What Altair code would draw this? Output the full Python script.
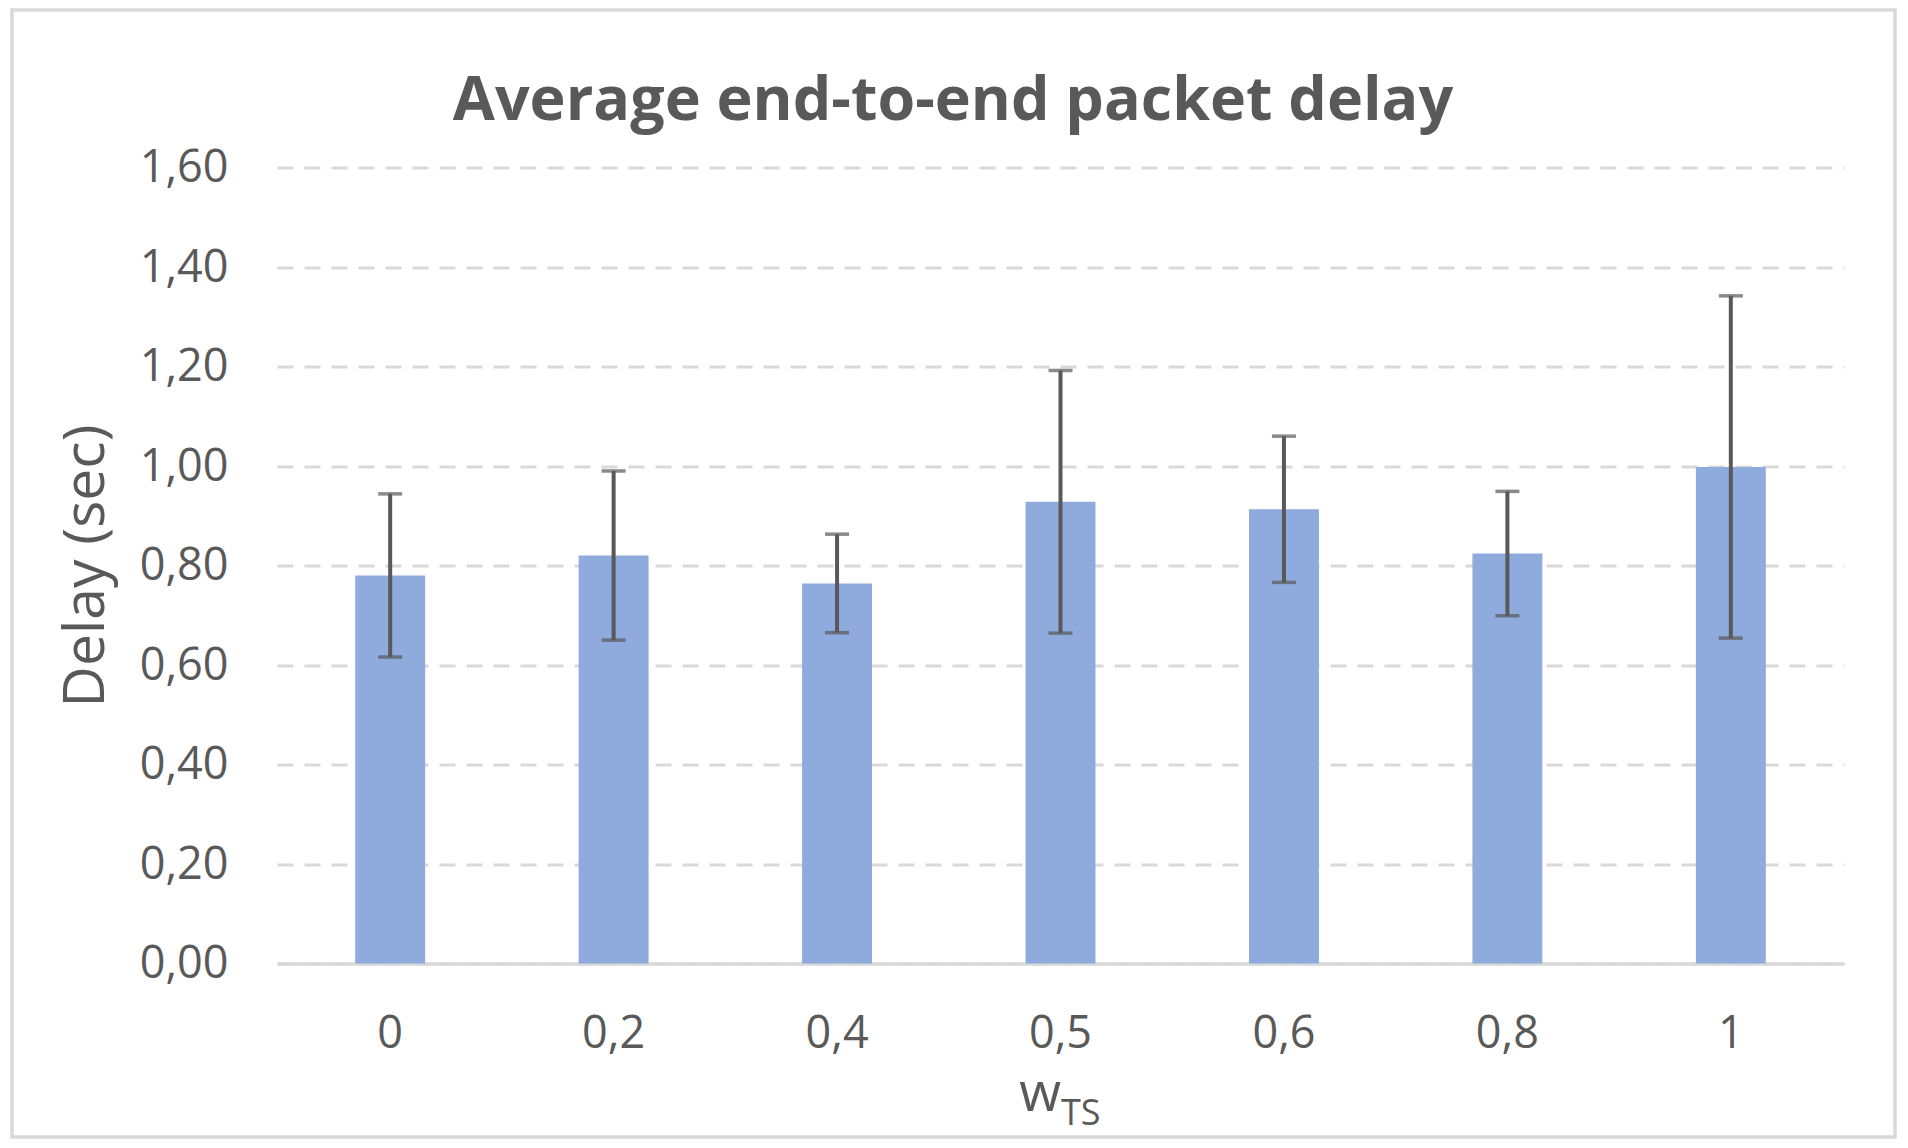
import altair as alt
import pandas as pd

# ---- data ----
w_ts = ["0", "0,2", "0,4", "0,5", "0,6", "0,8", "1"]
delay = [0.780, 0.820, 0.764, 0.928, 0.913, 0.824, 0.998]
err = [0.164, 0.170, 0.099, 0.264, 0.147, 0.125, 0.344]
y_ticks = [0.0, 0.2, 0.4, 0.6, 0.8, 1.0, 1.2, 1.4, 1.6]
title_text = "Average end-to-end packet delay"

df = pd.DataFrame({"w": w_ts, "delay": delay, "err": err})

TEXT = "#595959"
GRID = "#d9d9d9"
BAR = "#8FAADC"
FONT = "Open Sans"

W, H = 1567, 796

x_enc = alt.X(
    "w:N",
    sort=w_ts,
    scale=alt.Scale(paddingInner=0.687, paddingOuter=0.35),
    axis=alt.Axis(
        title=None,
        labelFont=FONT,
        labelFontSize=45,
        labelColor=TEXT,
        labelAngle=0,
        labelPadding=48,
        labelBaseline="top",
        ticks=False,
        tickSize=0,
        domainColor=GRID,
        domainWidth=3.5,
        grid=False,
    ),
)

y_scale = alt.Scale(domain=[0, 1.6], nice=False)

bars = alt.Chart(df).mark_bar(color=BAR).encode(
    x=x_enc,
    y=alt.Y(
        "delay:Q",
        scale=y_scale,
        axis=alt.Axis(
            title="Delay (sec)",
            titleFont=FONT,
            titleFontSize=57,
            titleFontWeight="normal",
            titleColor=TEXT,
            titlePadding=24,
            values=y_ticks,
            labelExpr="replace(format(datum.value, '.2f'), '.', ',')",
            labelFont=FONT,
            labelFontSize=45,
            labelColor=TEXT,
            labelPadding=49,
            ticks=False,
            tickSize=0,
            domain=False,
            grid=True,
            gridColor=GRID,
            gridWidth=3,
            gridDash=[16, 11],
        ),
    ),
)

base = alt.Chart(df).transform_calculate(
    lo="datum.delay - datum.err", hi="datum.delay + datum.err"
)

rules = base.mark_rule(color=TEXT, strokeWidth=4).encode(
    x=alt.X("w:N", sort=w_ts),
    y=alt.Y("lo:Q", scale=y_scale),
    y2="hi:Q",
)
cap_lo = base.mark_tick(color=TEXT, size=24, thickness=3.5, orient="horizontal").encode(
    x=alt.X("w:N", sort=w_ts),
    y=alt.Y("lo:Q", scale=y_scale),
)
cap_hi = base.mark_tick(color=TEXT, size=24, thickness=3.5, orient="horizontal").encode(
    x=alt.X("w:N", sort=w_ts),
    y=alt.Y("hi:Q", scale=y_scale),
)

one = alt.Chart(df).transform_filter("datum.w == '0'")

# outer frame around the chart
frame = one.mark_rect(
    fill=None, fillOpacity=0, stroke=GRID, strokeWidth=3.5
).encode(
    x=alt.value(-265), x2=alt.value(1618), y=alt.value(-157.5), y2=alt.value(969.5)
)

# chart title
title = one.mark_text(
    text=title_text, font=FONT, fontSize=61, fontWeight="bold", color=TEXT,
    align="center", baseline="alphabetic"
).encode(x=alt.value(676), y=alt.value(-47.5))

# x-axis title: w with subscript TS
xt_main = one.mark_text(
    text="w", font=FONT, fontSize=54, color=TEXT, align="right", baseline="alphabetic"
).encode(x=alt.value(784), y=alt.value(943.5))
xt_sub = one.mark_text(
    text="TS", font=FONT, fontSize=36, color=TEXT, align="left", baseline="alphabetic"
).encode(x=alt.value(784), y=alt.value(957))

chart = (
    alt.layer(frame, bars, rules, cap_lo, cap_hi, title, xt_main, xt_sub)
    .properties(
        width=W,
        height=H,
        autosize=alt.AutoSizeParams(type="none"),
        padding={"left": 269, "top": 159.5, "right": 55, "bottom": 175},
        background="white",
    )
    .configure_view(stroke=None)
)

chart.save("out.html", embed_options={"renderer": "svg", "actions": False})
